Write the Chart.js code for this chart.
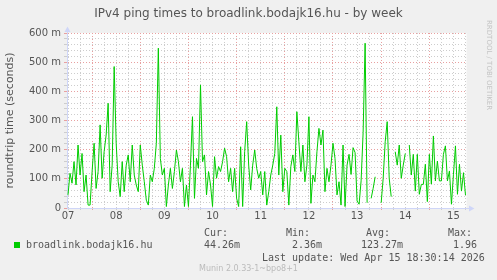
<!DOCTYPE html>
<html><head><meta charset="utf-8">
<script src="https://cdn.jsdelivr.net/npm/chart.js@4"></script>
<style>
html,body{margin:0;padding:0;background:#f0f0f0;}
#wrap{position:relative;width:497px;height:280px;overflow:hidden;background:#f0f0f0;}
canvas{position:absolute;left:0;top:0;}
.t{position:absolute;white-space:pre;color:#555;}
.mono{font-family:'DejaVu Sans Mono',monospace;font-size:10px;line-height:12px;}
</style></head><body>
<div id="wrap">
<canvas id="c" width="497" height="280"></canvas>
</div>
<script>
// ---- data ----
const chartTitle = 'IPv4 ping times to broadlink.bodajk16.hu - by week';
const yAxisTitle = 'roundtrip time (seconds)';
const seriesName = 'broadlink.bodajk16.hu';
const startHour = 12;      // hours after 07 Apr 00:00 of the first sample; one sample per hour
const rangeStartHour = 11.5;
const rangeEndHour = 210.5;
// ping times in milliseconds (null = no data)
const pingMs = [
  45,119,85,159,79,216,113,187,56,113,
  10,10,125,222,67,125,285,102,193,250,
  359,56,147,485,222,90,39,159,56,147,
  182,90,216,113,79,56,216,147,90,27,
  10,113,90,136,222,548,170,113,136,5,
  79,136,67,125,199,159,90,136,5,79,
  5,147,313,33,170,136,422,159,182,45,
  125,79,5,176,102,142,125,159,205,176,
  90,136,56,136,33,5,210,5,193,296,
  147,62,147,199,136,102,125,45,125,10,
  56,113,147,187,347,113,250,56,136,125,
  10,142,182,125,330,227,125,216,90,147,
  313,16,113,90,193,273,216,267,56,136,
  90,147,222,170,45,90,10,216,5,147,
  184,115,207,190,24,13,93,258,565,18,
  null,33,67,107,null,null,18,102,227,296,
  102,39,null,193,147,216,102,147,187,null,
  216,113,184,58,184,47,81,81,150,22,
  184,82,247,93,161,93,93,184,213,93,
  127,13,115,213,47,150,58,121,44
];
const dayLabels = ['07','08','09','10','11','12','13','14','15'];
const yMin = 0, yMax = 600, yMinorStep = 20, yMajorStep = 100;
const statNames = ['Cur:','Min:','Avg:','Max:'];
const statValues = ['44.26m','2.36m','123.27m','1.96'];
const lastUpdate = 'Last update: Wed Apr 15 18:30:14 2026';
const footer = 'Munin 2.0.33-1~bpo8+1';
const sideText = 'RRDTOOL / TOBI OETIKER';

// ---- text overlays ----
const wrap = document.getElementById('wrap');
function addText(txt, css, cls){
  const d = document.createElement('div');
  d.className = 't' + (cls ? ' ' + cls : '');
  d.textContent = txt;
  d.style.cssText += css;
  wrap.appendChild(d);
  return d;
}
addText(chartTitle, "left:0;top:6px;width:497px;text-align:center;font:12px/14px 'DejaVu Sans';");
addText(sideText, "left:485px;top:20px;writing-mode:vertical-rl;font:7px/8px 'DejaVu Sans';color:#c4c4c4;");
const sq = document.createElement('div');
sq.style.cssText = 'position:absolute;left:14px;top:242px;width:6px;height:6px;background:#00cc00;';
wrap.appendChild(sq);
addText(seriesName, 'left:26px;top:239px;', 'mono');
const statX = [204, 286, 366, 448];
const valX = [204, 292, 361, 453];
statNames.forEach((s,i)=>addText(s, 'left:'+statX[i]+'px;top:227px;', 'mono'));
statValues.forEach((s,i)=>addText(s, 'left:'+valX[i]+'px;top:239px;', 'mono'));
addText(lastUpdate, 'left:262px;top:252px;', 'mono');
addText(footer, "left:199px;top:264px;font:8px/10px 'DejaVu Sans';color:#bbb;");

// ---- chart ----
const points = pingMs.map((v,i)=>({x: startHour + i, y: v}));
const xTicks = [];
for (let h = 12; h <= 210; h += 6) xTicks.push(h);
const yTicks = [];
for (let v = yMin; v <= yMax; v += yMinorStep) yTicks.push(v);

const MAJOR = '#e8a0a0', MINOR = '#cdcdcd', AXIS = '#cfd6f8';

const framePlugin = {
  id: 'frame',
  beforeDraw(chart){
    const {ctx, chartArea:a} = chart;
    ctx.save();
    ctx.fillStyle = '#ffffff';
    ctx.fillRect(a.left, a.top, a.right - a.left, a.bottom - a.top);
    ctx.restore();
  },
  afterDraw(chart){
    const {ctx, chartArea:a} = chart;
    ctx.save();
    ctx.strokeStyle = AXIS; ctx.fillStyle = AXIS; ctx.lineWidth = 1;
    const yb = Math.round(a.bottom) + 0.5;
    const xl = Math.round(a.left) + 0.5;
    ctx.beginPath(); ctx.moveTo(a.right, yb); ctx.lineTo(a.right + 4, yb); ctx.stroke();
    ctx.beginPath(); ctx.moveTo(a.right + 2.5, yb - 3); ctx.lineTo(a.right + 8, yb); ctx.lineTo(a.right + 2.5, yb + 3); ctx.closePath(); ctx.fill();
    ctx.beginPath(); ctx.moveTo(xl, a.top); ctx.lineTo(xl, a.top - 3); ctx.stroke();
    ctx.beginPath(); ctx.moveTo(xl - 3, a.top - 1); ctx.lineTo(xl, a.top - 6.5); ctx.lineTo(xl + 3, a.top - 1); ctx.closePath(); ctx.fill();
    ctx.restore();
  }
};

new Chart(document.getElementById('c'), {
  type: 'line',
  data: { datasets: [{
    label: seriesName, data: points,
    borderColor: '#00cc00', borderWidth: 1, pointRadius: 0, tension: 0, spanGaps: false, fill: false
  }]},
  options: {
    responsive: false, animation: false, devicePixelRatio: 1,
    layout: { padding: { left: 0, right: 30.5, top: 33, bottom: 52 } },
    plugins: { legend: { display: false }, tooltip: { enabled: false }, title: { display: false } },
    scales: {
      x: {
        type: 'linear', min: rangeStartHour, max: rangeEndHour,
        afterBuildTicks: s => { s.ticks = xTicks.map(v => ({ value: v })); },
        afterFit: s => { s.height = 20; },
        ticks: {
          autoSkip: false, maxRotation: 0, minRotation: 0, padding: 0, color: '#555',
          font: { family: 'DejaVu Sans', size: 10 },
          callback: v => (v % 24 === 12) ? dayLabels[Math.floor(v / 24)] : ''
        },
        grid: {
          color: c => (c.tick && c.tick.value % 24 === 0) ? MAJOR : MINOR,
          tickLength: 2, drawTicks: true
        },
        border: { color: AXIS, width: 1, dash: [1, 2] }
      },
      y: {
        type: 'linear', min: yMin, max: yMax,
        afterBuildTicks: s => { s.ticks = yTicks.map(v => ({ value: v })); },
        afterFit: s => { s.width = 67; },
        ticks: {
          autoSkip: false, padding: 3, color: '#555',
          font: { family: 'DejaVu Sans', size: 10 },
          callback: v => (v % yMajorStep === 0) ? (v === 0 ? '0' : v + ' m') : ''
        },
        grid: {
          color: c => (c.tick && c.tick.value % yMajorStep === 0) ? MAJOR : MINOR,
          tickLength: 3, drawTicks: true
        },
        border: { color: AXIS, width: 1, dash: [1, 2] },
        title: {
          display: true, text: yAxisTitle, color: '#555',
          font: { family: 'DejaVu Sans', size: 11 },
          padding: { top: 4, bottom: 0 }
        }
      }
    }
  },
  plugins: [framePlugin]
});
</script>
</body></html>
